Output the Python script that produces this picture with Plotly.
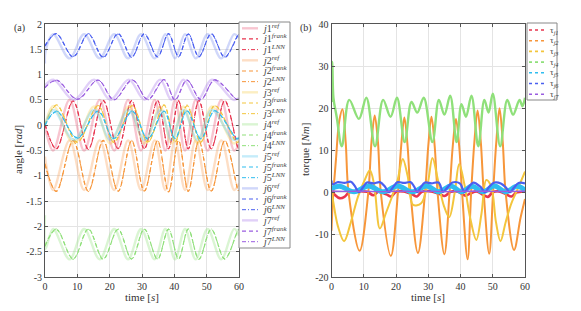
import plotly.graph_objects as go

# ---------------- joint angle data (key points) ----------------
# schedule A: joints 1, 2, 4, 6   (ref leads the estimated curves by ~1 s)
tA_ref = [0, 0.15, 2.5, 7.6, 12.1, 16.9, 21.4, 25.7, 29.7, 33.9, 37.2, 40.2, 43.3, 46.6, 50.3, 54.5, 58.5, 60]
tA_est = [0, 3.5, 8.7, 13.4, 18.0, 22.6, 26.8, 30.7, 34.8, 38.2, 41.3, 44.3, 47.6, 51.4, 55.6, 59.8, 60]
# schedule B: joints 3, 5, 7
tB_ref = [0, 2.6, 8.9, 15.2, 20.2, 25.9, 30.8, 35.6, 39.1, 42.8, 47.2, 51.6, 58.3, 60]
tB_est = [0, 3.6, 10.0, 16.4, 21.3, 27.0, 31.8, 36.8, 40.2, 43.9, 48.2, 52.5, 59.3, 60]

j1_ref = [0.00, -0.08, -0.50, 0.50, -0.50, 0.50, -0.50, 0.50, -0.50, 0.50, -0.50, 0.50, -0.50, 0.50, -0.50, 0.50, -0.50, -0.38]
j1_frank = [0.02, -0.47, 0.48, -0.47, 0.49, -0.46, 0.48, -0.47, 0.49, -0.46, 0.48, -0.47, 0.49, -0.46, 0.48, -0.47, -0.46]
j1_lnn = [0.01, -0.46, 0.47, -0.48, 0.48, -0.47, 0.49, -0.46, 0.48, -0.47, 0.49, -0.46, 0.48, -0.47, 0.49, -0.46, -0.45]

j2_ref = [-0.62, -0.70, -1.28, -0.30, -1.28, -0.30, -1.28, -0.30, -1.28, -0.30, -1.28, -0.30, -1.28, -0.30, -1.28, -0.30, -1.28, -1.15]
j2_frank = [-0.76, -1.31, -0.31, -1.30, -0.30, -1.31, -0.31, -1.30, -0.31, -1.32, -0.30, -1.31, -0.31, -1.30, -0.31, -1.29, -1.28]
j2_lnn = [-0.78, -1.30, -0.30, -1.31, -0.31, -1.30, -0.30, -1.31, -0.30, -1.31, -0.31, -1.30, -0.30, -1.31, -0.30, -1.30, -1.29]

j3_ref = [0.00, 0.38, -0.36, 0.37, -0.36, 0.37, -0.36, 0.37, -0.36, 0.37, -0.36, 0.37, -0.36, -0.30]
j3_frank = [0.00, 0.40, -0.33, 0.38, -0.34, 0.39, -0.33, 0.40, -0.34, 0.38, -0.33, 0.39, -0.34, -0.32]
j3_lnn = [0.01, 0.39, -0.34, 0.39, -0.33, 0.38, -0.34, 0.39, -0.33, 0.40, -0.34, 0.38, -0.33, -0.31]

j4_ref = [-1.78, -2.45, -2.05, -2.65, -2.05, -2.65, -2.05, -2.65, -2.05, -2.65, -2.05, -2.65, -2.05, -2.65, -2.05, -2.65, -2.05, -2.18]
j4_frank = [-2.38, -2.06, -2.64, -2.05, -2.65, -2.06, -2.64, -2.05, -2.65, -2.06, -2.64, -2.05, -2.65, -2.06, -2.64, -2.07, -2.08]
j4_lnn = [-2.40, -2.05, -2.65, -2.06, -2.64, -2.05, -2.65, -2.06, -2.64, -2.05, -2.65, -2.06, -2.64, -2.05, -2.65, -2.06, -2.07]

j5_ref = [0.00, 0.30, -0.29, 0.30, -0.29, 0.30, -0.29, 0.30, -0.29, 0.30, -0.29, 0.30, -0.29, -0.24]
j5_frank = [0.00, 0.27, -0.25, 0.28, -0.26, 0.27, -0.27, 0.28, -0.26, 0.29, -0.27, 0.28, -0.27, -0.26]
j5_lnn = [0.00, 0.28, -0.26, 0.27, -0.27, 0.28, -0.26, 0.27, -0.27, 0.28, -0.26, 0.29, -0.26, -0.25]

j6_ref = [1.22, 1.45, 1.80, 1.32, 1.80, 1.32, 1.80, 1.32, 1.80, 1.32, 1.80, 1.32, 1.80, 1.32, 1.80, 1.32, 1.80, 1.72]
j6_frank = [1.56, 1.81, 1.35, 1.80, 1.34, 1.81, 1.35, 1.80, 1.35, 1.81, 1.36, 1.80, 1.35, 1.81, 1.34, 1.78, 1.77]
j6_lnn = [1.58, 1.80, 1.36, 1.81, 1.35, 1.80, 1.34, 1.81, 1.36, 1.80, 1.35, 1.81, 1.36, 1.80, 1.35, 1.79, 1.78]

j7_ref = [0.78, 0.90, 0.50, 0.90, 0.50, 0.90, 0.50, 0.90, 0.50, 0.90, 0.50, 0.90, 0.50, 0.54]
j7_frank = [0.74, 0.89, 0.51, 0.89, 0.50, 0.89, 0.51, 0.90, 0.50, 0.89, 0.51, 0.89, 0.51, 0.52]
j7_lnn = [0.75, 0.88, 0.52, 0.89, 0.51, 0.90, 0.50, 0.89, 0.51, 0.89, 0.50, 0.90, 0.51, 0.52]

# ---------------- joint torque data (key points) ----------------
t_tau1 = [0, 1, 2.5, 4, 5.5, 8, 11, 13, 14.5, 17, 18.5, 20, 22.5, 25, 26.5, 28, 31, 33.5, 35, 37, 39, 41.5, 43, 45, 47, 48.5, 50, 52, 54, 55.8, 57.5, 60]
tau1 = [0.3, -0.5, -1.3, -1.0, 0.1, 0.3, 0.2, -0.6, 0.2, -0.4, -0.9, 0.2, 0.3, -0.4, -0.9, 0.2, 0.3, -0.3, -0.8, 0.2, 0.3, -0.7, -0.2, 0.3, -0.5, -1.0, 0.1, 0.3, -0.3, -0.9, 0.1, 0.2]

t_tau2 = [0, 0.4, 1.4, 2.4, 3.4, 4.4, 5.3, 8.7, 11.4, 12.4, 13.4, 14.4, 15.3, 18.4, 20.6, 21.6, 22.6, 23.6, 24.5, 26.8,
          29.0, 30.0, 31.0, 32.0, 32.9, 35.0, 36.6, 37.6, 38.6, 39.6, 40.5, 42.2, 43.3, 44.3, 45.3, 46.3, 47.2, 48.9,
          50.1, 51.1, 52.1, 53.1, 54.0, 56.6, 58.6, 60]
tau2 = [-9, -2, 8, 17, 19.8, 12, 0, -13.8, 0, 12, 18.3, 12, 0, -15, 0, 11, 17.8, 11, 0, -14.3,
        0, 11, 18, 11, 0, -14.6, 0, 11, 17.5, 11, 0, -15.8, 0, 12, 19.5, 12, 0, -14.5,
        0, 12, 20, 12, 0, -13.6, -6, -1.5]

t_tau3 = [0, 0.5, 2.0, 3.9, 6.0, 8.2, 10.3, 11.9, 13.2, 15.0, 16.8, 18.5, 20.5, 22.1, 23.6, 25.3, 27.8, 29.8, 31.3, 33.0,
          34.8, 36.5, 38.2, 39.6, 41.2, 43.0, 44.9, 46.5, 48.0, 49.5, 51.0, 52.4, 54.0, 55.8, 57.8, 60]
tau3 = [0, -2, -8, -11.5, -7, -1, 3, 5.3, 2, -8.5, -5, -1.5, 3, 8, 4, -2.9, -2.5, 2, 8.2, 3,
        -3, -5.8, 0, 6.8, 2, -6, -11.2, -5, 3, 1.5, -7, -11.5, -7, -2.5, 1, 5]

t_tau4 = [0, 0.25, 0.6, 1.6, 3.2, 5.5, 8.5, 10.8, 13.5, 16.0, 18.3, 20.3, 22.7, 24.8, 26.6, 28.6, 31.3, 33.3, 35.0, 36.8,
          38.8, 40.3, 41.7, 43.4, 45.5, 47.4, 48.7, 50.0, 52.3, 54.5, 56.3, 58.3, 59.2, 60]
tau4 = [21.5, 31.0, 22.5, 18, 11, 22, 17.5, 22.5, 11, 22, 18, 22.5, 12, 21.5, 19, 22.5, 12, 22, 18.5, 23,
        12, 21, 18, 23, 11, 22, 19, 23.5, 11, 22, 18.5, 22, 20.5, 22.5]

t_tau5 = [0, 2.5, 7, 11.5, 16, 20.5, 25, 29.5, 33.3, 37, 40.3, 43.5, 47, 50.5, 54, 57.5, 60]
tau5 = [1.0, 1.5, 0.2, 1.6, 0.2, 1.6, 0.2, 1.6, 0.2, 1.6, 0.2, 1.5, 0.2, 1.6, 0.2, 1.5, 0.6]

t_tau6 = [0, 0.3, 2, 4, 6, 7.2, 8.5, 9.8, 11, 13, 15, 16.6, 17.8, 19.0, 20.5, 22.5, 24.5, 25.6, 26.6, 27.6,
          29, 31, 33.2, 34.6, 35.9, 37.5, 39.8, 41.2, 42.5, 44, 46.3, 47.6, 48.8, 50.5, 52.5, 54.1, 55.3, 56.6, 58, 60]
tau6 = [2.9, 2.0, 2.5, 2.3, 2.6, 1.6, 0.1, 1.3, 2.4, 2.2, 2.5, 1.4, 0.1, 1.2, 2.5, 2.3, 2.5, 1.5, 0.1, 1.2,
        2.4, 2.2, 2.4, 0.2, 1.2, 2.4, 2.2, 0.2, 1.3, 2.4, 1.3, 0.1, 1.3, 2.4, 2.2, 1.2, 0.1, 1.2, 2.3, 2.2]

t_tau7 = [0, 5, 10, 15, 20, 25, 30, 35, 40, 45, 50, 55, 60]
tau7 = [0.4, 0.3, 0.35, 0.25, 0.35, 0.3, 0.35, 0.25, 0.3, 0.35, 0.3, 0.3, 0.35]

# ---------------- ticks ----------------
x_ticks = [0, 10, 20, 30, 40, 50, 60]
x_ticktext = ['0', '10', '20', '30', '40', '50', '60']
ya_ticks = [-3, -2.5, -2, -1.5, -1, -0.5, 0, 0.5, 1, 1.5, 2]
ya_ticktext = ['-3', '-2.5', '-2', '-1.5', '-1', '-0.5', '0', '0.5', '1', '1.5', '2']
yb_ticks = [-20, -10, 0, 10, 20, 30, 40]
yb_ticktext = ['-20', '-10', '0', '10', '20', '30', '40']

# ---------------- styling ----------------
W, H = 581, 311
FONT = 'Liberation Serif'
dark = {1: '#e8344e', 2: '#f7963a', 3: '#f3c53c', 4: '#8fe07a', 5: '#2fbdf0', 6: '#4a5ff0', 7: '#9a5de0'}
light = {1: 'rgba(236,90,120,0.35)', 2: 'rgba(250,160,90,0.35)', 3: 'rgba(246,205,80,0.35)',
         4: 'rgba(150,225,130,0.35)', 5: 'rgba(90,200,240,0.35)', 6: 'rgba(120,140,240,0.35)',
         7: 'rgba(170,120,235,0.35)'}
DASH_F = '4px,3px'
DASH_L = '4px,2px,1px,2px'

def px(x):
    return x / W

def py(y):
    return 1 - y / H

fig = go.Figure()

joints = [
    (1, j1_ref, j1_frank, j1_lnn, tA_ref, tA_est),
    (2, j2_ref, j2_frank, j2_lnn, tA_ref, tA_est),
    (3, j3_ref, j3_frank, j3_lnn, tB_ref, tB_est),
    (4, j4_ref, j4_frank, j4_lnn, tA_ref, tA_est),
    (5, j5_ref, j5_frank, j5_lnn, tB_ref, tB_est),
    (6, j6_ref, j6_frank, j6_lnn, tA_ref, tA_est),
    (7, j7_ref, j7_frank, j7_lnn, tB_ref, tB_est),
]
legend_a = []
for k, r, f, l, tr, te in joints:
    fig.add_trace(go.Scatter(x=tr, y=r, mode='lines', line=dict(color=light[k], width=2.4, shape='spline'),
                             showlegend=False, hoverinfo='skip', xaxis='x', yaxis='y'))
    fig.add_trace(go.Scatter(x=te, y=f, mode='lines', line=dict(color=dark[k], width=1.2, dash=DASH_F, shape='spline'),
                             showlegend=False, hoverinfo='skip', xaxis='x', yaxis='y'))
    fig.add_trace(go.Scatter(x=te, y=l, mode='lines', line=dict(color=dark[k], width=1.0, dash=DASH_L, shape='spline'),
                             showlegend=False, hoverinfo='skip', xaxis='x', yaxis='y'))
    legend_a.append((f'<i>j</i>{k}<sup><i>ref</i></sup>', light[k], 2.4, 'solid'))
    legend_a.append((f'<i>j</i>{k}<sup><i>frank</i></sup>', dark[k], 1.2, DASH_F))
    legend_a.append((f'<i>j</i>{k}<sup><i>LNN</i></sup>', dark[k], 1.0, DASH_L))

torques = [
    (1, t_tau1, tau1, 2.6), (2, t_tau2, tau2, 2.0), (3, t_tau3, tau3, 2.0), (4, t_tau4, tau4, 2.4),
    (5, t_tau5, tau5, 5.0), (6, t_tau6, tau6, 2.2), (7, t_tau7, tau7, 1.4),
]
for k, tt, vv, w in torques:
    fig.add_trace(go.Scatter(x=tt, y=vv, mode='lines', line=dict(color=dark[k], width=w, shape='spline'),
                             showlegend=False, hoverinfo='skip', xaxis='x2', yaxis='y2'))

axis_common = dict(showgrid=True, gridcolor='#e4e4e4', gridwidth=1, zeroline=False,
                   showline=True, linecolor='#555555', linewidth=1, mirror='ticks',
                   ticks='inside', ticklen=3, tickcolor='#555555', automargin=False,
                   tickfont=dict(family=FONT, size=10, color='#333333'))

fig.update_layout(
    width=W, height=H, autosize=False,
    margin=dict(l=0, r=0, t=0, b=0, pad=0, autoexpand=False),
    paper_bgcolor='white', plot_bgcolor='white',
    showlegend=False,
    xaxis=dict(domain=[px(45), px(239)], range=[0, 60], tickvals=x_ticks, ticktext=x_ticktext,
               anchor='y', **axis_common),
    yaxis=dict(domain=[py(277), py(24)], range=[-3, 2], tickvals=ya_ticks, ticktext=ya_ticktext,
               anchor='x', **axis_common),
    xaxis2=dict(domain=[px(331.5), px(525)], range=[0, 60], tickvals=x_ticks, ticktext=x_ticktext,
                anchor='y2', **axis_common),
    yaxis2=dict(domain=[py(277), py(24)], range=[-20, 40], tickvals=yb_ticks, ticktext=yb_ticktext,
                anchor='x2', **axis_common),
)

shapes = []
annotations = []
txt = dict(family=FONT, size=10, color='#333333')
ttl = dict(family=FONT, size=11, color='#333333')

def label(x, y, text, font, angle=0, xa='center'):
    return dict(x=px(x), y=py(y), xref='paper', yref='paper', text=text, showarrow=False,
                xanchor=xa, yanchor='middle', textangle=angle, font=font)

# axis titles and panel labels
annotations += [
    label(142, 297, 'time [<i>s</i>]', ttl),
    label(428, 297, 'time [<i>s</i>]', ttl),
    label(18, 150, 'angle [<i>rad</i>]', ttl, angle=-90),
    label(305, 150, 'torque [<i>Nm</i>]', ttl, angle=-90),
    label(19, 28, '(a)', txt),
    label(306, 28, '(b)', txt),
]

# legend (a)
shapes.append(dict(type='rect', xref='paper', yref='paper', x0=px(239), x1=px(290), y0=py(248), y1=py(22),
                   line=dict(color='#888888', width=1), fillcolor='white', layer='above'))
for i, (name, col, w, dsh) in enumerate(legend_a):
    yy = 28.3 + 10.67 * i
    shapes.append(dict(type='line', xref='paper', yref='paper', x0=px(242), x1=px(258), y0=py(yy), y1=py(yy),
                       line=dict(color=col, width=w, dash=dsh), layer='above'))
    annotations.append(label(260, yy - 0.5, name, dict(family=FONT, size=10, color='#444444'), xa='left'))

# legend (b)
shapes.append(dict(type='rect', xref='paper', yref='paper', x0=px(527), x1=px(557), y0=py(100), y1=py(23),
                   line=dict(color='#888888', width=1), fillcolor='white', layer='above'))
for i in range(7):
    yy = 30 + 10.7 * i
    shapes.append(dict(type='line', xref='paper', yref='paper', x0=px(529), x1=px(546), y0=py(yy), y1=py(yy),
                       line=dict(color=dark[i + 1], width=1.6, dash='dot'), layer='above'))
    annotations.append(label(548, yy, f'τ<sub><i>j{i + 1}</i></sub>', dict(family=FONT, size=9, color='#444444'), xa='left'))

fig.update_layout(shapes=shapes, annotations=annotations)
fig.write_html('out.html', config={'displayModeBar': False},
               post_script="document.body.style.margin='0';document.body.style.overflow='hidden';")
